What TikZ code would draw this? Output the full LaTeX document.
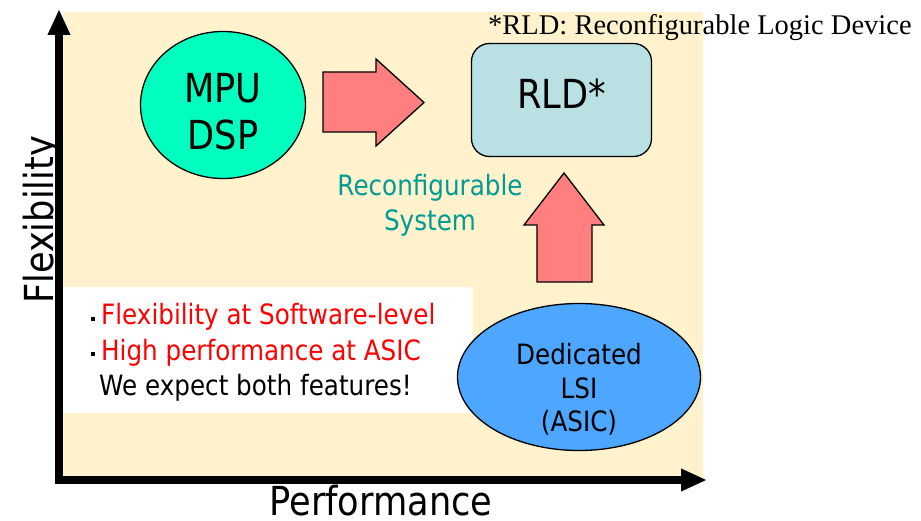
\documentclass[tikz,border=0pt]{standalone}
\usepackage{fontspec}
\setmainfont{Liberation Serif}
\newfontfamily\tahoma{DejaVu Sans}[FakeStretch=0.88]
\usetikzlibrary{arrows.meta, shapes.geometric}
\definecolor{cfgbeige}{HTML}{FFF2CC}
\definecolor{cfgmint}{HTML}{00FFBF}
\definecolor{cfgpink}{HTML}{FF7F7F}
\definecolor{cfgcyan}{HTML}{B9E0E3}
\definecolor{cfgblue}{HTML}{4DA6FF}
\definecolor{cfgteal}{HTML}{009B95}
\definecolor{cfgred}{HTML}{FF0000}
\newcommand{\sqbul}{\llap{{\color{black}\rule[4pt]{4pt}{4pt}}\hspace{6pt}}}

\begin{document}
\begin{tikzpicture}[
  x=1pt, y=-1pt,
  every node/.style={inner sep=0pt},
  bigfont/.style={font=\tahoma\fontsize{40}{47}\selectfont},
  midfont/.style={font=\tahoma\fontsize{28}{34}\selectfont},
  chip/.style={ellipse, draw, line width=1.3pt},
  blockarrow/.style={draw, line width=1.3pt, fill=cfgpink, line join=miter},
  axisline/.style={line width=8.5pt, line join=miter,
    {Triangle[length=26pt, width=21pt]}-{Triangle[length=26pt, width=21pt]}},
]
\useasboundingbox (0,0) rectangle (921,521);

% chart area
\fill[cfgbeige] (63,12) rectangle (703,477);
\fill[white] (63,287) rectangle (473,413);
\coordinate (ytop) at (59,9);
\coordinate (orig) at (59,480);
\coordinate (xend) at (707,480);
\draw[axisline] (ytop) -- (orig) -- (xend);

% devices
\node[chip, fill=cfgmint, minimum width=165pt, minimum height=147pt] (mpu) at (223,105) {};
\node[draw, line width=1.3pt, rounded corners=18pt, fill=cfgcyan, minimum width=180pt, minimum height=113pt] (rld) at (561.5,100) {};
\node[chip, fill=cfgblue, minimum width=243pt, minimum height=147pt] (asic) at (579,377) {};

\node[bigfont, align=center] (mpulabel) at ([yshift=-7pt]mpu.center) {MPU\\DSP};
\node[bigfont] (rldlabel) at ([yshift=6.5pt]rld.center) {RLD*};
\node[align=center, font=\tahoma\fontsize{28}{33.5}\selectfont] (asiclabel) at ([yshift=-12.5pt]asic.center) {Dedicated\\LSI\\(ASIC)};

% block arrows
\draw[blockarrow] (323,72) -- (376,72) -- (376,59) -- (424,102.5) -- (376,146) -- (376,132) -- (323,132) -- cycle;
\draw[blockarrow] (537,282) -- (537,225) -- (524,225) -- (564,173) -- (604,225) -- (592,225) -- (592,282) -- cycle;

\node[align=center, text=cfgteal, font=\tahoma\fontsize{28}{35}\selectfont] (recon) at (430,205) {Reconfigurable\\System};

% notes
\node[anchor=base west, font=\fontsize{28.5}{30}\selectfont] (note) at (488,35) {*RLD: Reconfigurable Logic Device};
\node[midfont, anchor=base west, text=cfgred] (feat1) at (101,325) {\sqbul Flexibility at Software-level};
\node[midfont, anchor=base west, text=cfgred] (feat2) at (101,360) {\sqbul High performance at ASIC};
\node[midfont, anchor=base west] (feat3) at (99,395) {We expect both features!};

% axis labels
\node[bigfont, rotate=90, anchor=base] (flex) at (53,220) {Flexibility};
\node[bigfont, anchor=base] (perf) at (381,515) {Performance};
\end{tikzpicture}
\end{document}
